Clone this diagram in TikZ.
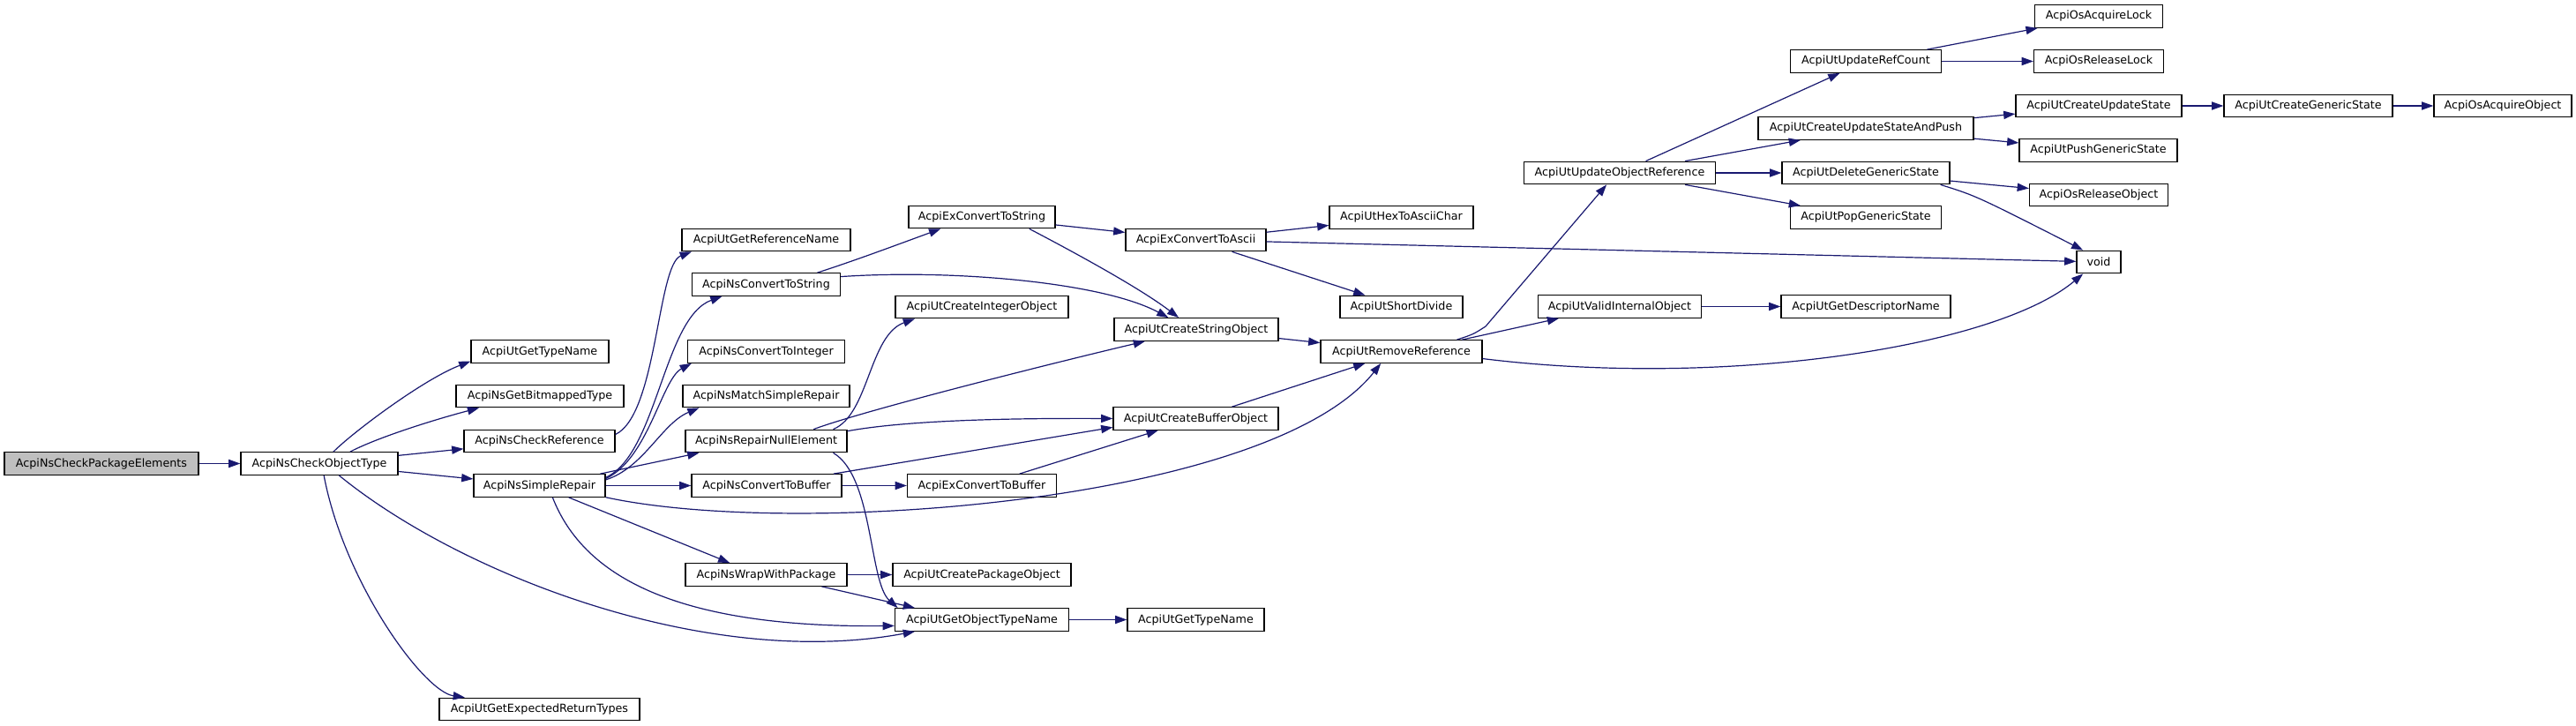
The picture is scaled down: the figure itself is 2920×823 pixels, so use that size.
\documentclass[tikz,border=0pt]{standalone}
\usepackage{fontspec}
\newfontfamily\dvs{DejaVu Sans}
\usetikzlibrary{arrows.meta}
\definecolor{edgeblue}{HTML}{191970}
\definecolor{rootgray}{HTML}{BFBFBF}
\tikzset{
  fn/.style={draw=black, line width=0.65pt, fill=white, inner sep=0pt,
    minimum height=12.75pt, text=black,
    font=\dvs\fontsize{6.35pt}{7.6pt}\selectfont},
  rootn/.style={fn, fill=rootgray},
  edge/.style={draw=edgeblue, line width=0.6pt,
    -{Triangle[length=6.6pt,width=4.6pt]}},
}
\begin{document}
\begin{tikzpicture}[x=0.5pt,y=-0.5pt]
\fill[white] (0,0) rectangle (2920,823);
\useasboundingbox (0,0) rectangle (2920,823);

% nodes
\node[rootn, minimum width=110pt] (pkg) at (115,525.5) {AcpiNsCheckPackageElements};
\node[fn, minimum width=89pt] (objtype) at (362,525.5) {AcpiNsCheckObjectType};
\node[fn, minimum width=78pt] (gettn1) at (612,398.5) {AcpiUtGetTypeName};
\node[fn, minimum width=95pt] (bitmap) at (612,449) {AcpiNsGetBitmappedType};
\node[fn, minimum width=85.5pt] (checkref) at (611.5,500) {AcpiNsCheckReference};
\node[fn, minimum width=74.5pt] (simple) at (611.5,550.5) {AcpiNsSimpleRepair};
\node[fn, minimum width=113.5pt] (expret) at (611.5,804) {AcpiUtGetExpectedReturnTypes};
\node[fn, minimum width=95.5pt] (getrefname) at (868.5,272) {AcpiUtGetReferenceName};
\node[fn, minimum width=84pt] (convstr) at (868.5,322.5) {AcpiNsConvertToString};
\node[fn, minimum width=89pt] (convint) at (868.5,398.5) {AcpiNsConvertToInteger};
\node[fn, minimum width=94.5pt] (matchsr) at (868.5,449) {AcpiNsMatchSimpleRepair};
\node[fn, minimum width=91.5pt] (repairnull) at (868.5,500) {AcpiNsRepairNullElement};
\node[fn, minimum width=85pt] (convbuf) at (869,550.5) {AcpiNsConvertToBuffer};
\node[fn, minimum width=91.5pt] (wrap) at (868.5,651.5) {AcpiNsWrapWithPackage};
\node[fn, minimum width=83pt] (exconvstr) at (1113,246) {AcpiExConvertToString};
\node[fn, minimum width=98pt] (createint) at (1113,348) {AcpiUtCreateIntegerObject};
\node[fn, minimum width=84.5pt] (exconvbuf) at (1113,550.5) {AcpiExConvertToBuffer};
\node[fn, minimum width=101pt] (createpkg) at (1113,651.5) {AcpiUtCreatePackageObject};
\node[fn, minimum width=98.5pt] (getobjtn) at (1113,702.5) {AcpiUtGetObjectTypeName};
\node[fn, minimum width=79.5pt] (exconvascii) at (1355.5,272) {AcpiExConvertToAscii};
\node[fn, minimum width=93pt] (createstr) at (1356,373.5) {AcpiUtCreateStringObject};
\node[fn, minimum width=93.5pt] (createbuf) at (1355.5,474.5) {AcpiUtCreateBufferObject};
\node[fn, minimum width=77.5pt] (gettn2) at (1355.5,702.5) {AcpiUtGetTypeName};
\node[fn, minimum width=81.5pt] (hex) at (1588.5,246.5) {AcpiUtHexToAsciiChar};
\node[fn, minimum width=69.5pt] (shortdiv) at (1588.5,348) {AcpiUtShortDivide};
\node[fn, minimum width=91.5pt] (removeref) at (1588.5,398.5) {AcpiUtRemoveReference};
\node[fn, minimum width=92.5pt] (validint) at (1836,347.5) {AcpiUtValidInternalObject};
\node[fn, minimum width=108.5pt] (updobjref) at (1836,196) {AcpiUtUpdateObjectReference};
\node[fn, minimum width=96pt] (getdesc) at (2115,347.5) {AcpiUtGetDescriptorName};
\node[fn, minimum width=85.5pt] (updrefcnt) at (2115,69.5) {AcpiUtUpdateRefCount};
\node[fn, minimum width=122pt] (crupdpush) at (2115,145.5) {AcpiUtCreateUpdateStateAndPush};
\node[fn, minimum width=95pt] (delgen) at (2115,196) {AcpiUtDeleteGenericState};
\node[fn, minimum width=85.5pt] (popgen) at (2115,246.5) {AcpiUtPopGenericState};
\node[fn, minimum width=72.5pt] (acqlock) at (2379,18.5) {AcpiOsAcquireLock};
\node[fn, minimum width=73.5pt] (rellock) at (2379,69.5) {AcpiOsReleaseLock};
\node[fn, minimum width=94pt] (crupd) at (2379,120) {AcpiUtCreateUpdateState};
\node[fn, minimum width=89.5pt] (pushgen) at (2378.5,170.5) {AcpiUtPushGenericState};
\node[fn, minimum width=78.5pt] (relobj) at (2379,221) {AcpiOsReleaseObject};
\node[fn, minimum width=25pt] (void) at (2379,297) {void};
\node[fn, minimum width=95.5pt] (crgen) at (2616.5,120) {AcpiUtCreateGenericState};
\node[fn, minimum width=78pt] (acqobj) at (2837,120) {AcpiOsAcquireObject};

% edges
\draw[edge] (pkg) -- (objtype);
\draw[edge] (objtype.40) .. controls (400,490) and (480,430) .. (gettn1.188);
\draw[edge] (objtype.21) .. controls (430,495) and (495,475) .. (bitmap.191);
\draw[edge] (objtype) -- (checkref);
\draw[edge] (objtype) -- (simple);
\draw[edge] (objtype.329) .. controls (520,650) and (800,760) .. (getobjtn.190);
\draw[edge] (objtype.291) .. controls (390,660) and (480,784) .. (expret.171);

\draw[edge] (checkref.5) .. controls (745,470) and (745,300) .. (getrefname.189);

\draw[edge] (simple.7) .. controls (745,515) and (752,360) .. (convstr.195);
\draw[edge] (simple.6) .. controls (735,520) and (750,430) .. (convint.189);
\draw[edge] (simple.5) .. controls (730,530) and (750,480) .. (matchsr.190);
\draw[edge] (simple.11) -- (repairnull.190);
\draw[edge] (simple) -- (convbuf);
\draw[edge] (simple.350) .. controls (900,610) and (1440,570) .. (removeref.210);
\draw[edge] (simple.338) -- (wrap.162);
\draw[edge] (simple.318) .. controls (660,650) and (760,712) .. (getobjtn.184);

\draw[edge] (convstr.13) .. controls (970,295) and (1010,280) .. (exconvstr.196);
\draw[edge] (convstr.6) .. controls (1080,305) and (1250,320) .. (createstr.157);

\draw[edge] (exconvstr) -- (exconvascii);
\draw[edge] (exconvstr.346) .. controls (1210,282) and (1290,325) .. (createstr.146);

\draw[edge] (exconvascii) -- (hex);
\draw[edge] (exconvascii) -- (shortdiv);
\draw[edge] (exconvascii) -- (void);

\draw[edge] (createstr) -- (removeref);
\draw[edge] (createbuf) -- (removeref);

\draw[edge] (repairnull.10) .. controls (985,470) and (985,380) .. (createint.190);
\draw[edge] (repairnull.14) .. controls (980,465) and (1200,410) .. (createstr.193);
\draw[edge] (repairnull.7) .. controls (1030,476) and (1150,474) .. (createbuf.west);
\draw[edge] (repairnull.350) .. controls (990,540) and (985,660) .. (getobjtn.172);

\draw[edge] (wrap) -- (createpkg);
\draw[edge] (wrap.348) -- (getobjtn.170);

\draw[edge] (convbuf) -- (exconvbuf);
\draw[edge] (convbuf.10) -- (createbuf.186);
\draw[edge] (exconvbuf) -- (createbuf);

\draw[edge] (getobjtn) -- (gettn2);

\draw[edge] (removeref.11) -- (validint.191);
\draw[edge] (removeref.12) .. controls (1670,379) .. (1684,370) -- (updobjref.222);
\draw[edge] (removeref.355) .. controls (1950,440) and (2260,395) .. (void.217);

\draw[edge] (validint) -- (getdesc);

\draw[edge] (updobjref) -- (updrefcnt);
\draw[edge] (updobjref) -- (crupdpush);
\draw[edge] (updobjref) -- (delgen);
\draw[edge] (updobjref) -- (popgen);

\draw[edge] (updrefcnt) -- (acqlock);
\draw[edge] (updrefcnt) -- (rellock);

\draw[edge] (crupdpush) -- (crupd);
\draw[edge] (crupdpush) -- (pushgen);
\draw[edge] (crupd) -- (crgen);
\draw[edge] (crgen) -- (acqobj);

\draw[edge] (delgen) -- (relobj);
\draw[edge] (delgen.351) .. controls (2240,222) .. (void.143);
\end{tikzpicture}
\end{document}
